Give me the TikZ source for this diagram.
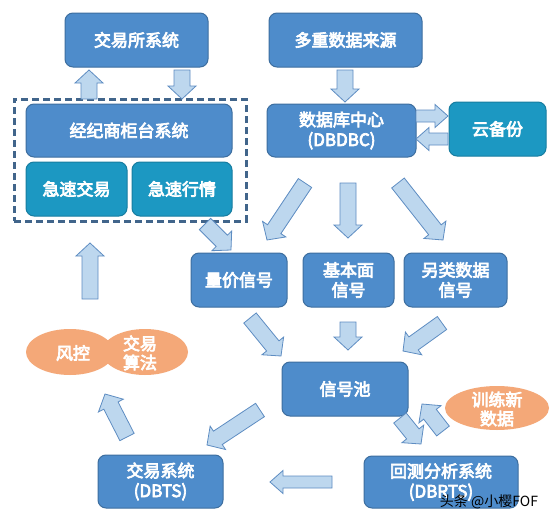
\documentclass[tikz,border=0pt]{standalone}
\usepackage{fontspec}
\setmainfont{Noto Sans CJK SC}
\usetikzlibrary{calc,shapes.geometric}
\definecolor{boxblue}{HTML}{4E8CCB}
\definecolor{boxline}{HTML}{3D6E9F}
\definecolor{tealfill}{HTML}{1C98C2}
\definecolor{tealline}{HTML}{177DA0}
\definecolor{orangefill}{HTML}{F4A878}
\definecolor{arrowfill}{HTML}{BDD7EE}
\definecolor{arrowline}{HTML}{5E8DC2}
\definecolor{frameline}{HTML}{41658B}
\newcommand{\hv}[1]{\special{pdf:literal direct 2 Tr 0.7 w}#1\special{pdf:literal direct 0 Tr}}
\def\sw{8}\def\hw{14}\def\hl{13}
\newcommand{\barrow}[2]{%
  \path let \p1=(#1), \p2=(#2) in \pgfextra{%
    \pgfmathsetmacro\bang{atan2(\y2-\y1,\x2-\x1)}%
    \pgfmathsetmacro\blen{veclen(\x2-\x1,\y2-\y1)}%
    \xdef\bang{\bang}\xdef\blen{\blen}\xdef\bsx{\x1}\xdef\bsy{\y1}};
  \draw[blockarrow, shift={(\bsx,\bsy)}, rotate=\bang]
    (0,\sw) -- ({\blen-\hl},\sw) -- ({\blen-\hl},\hw) -- (\blen,0)
    -- ({\blen-\hl},-\hw) -- ({\blen-\hl},-\sw) -- (0,-\sw) -- cycle;
}
\begin{document}
\begin{tikzpicture}[x=1pt,y=-1pt,
  box/.style={draw=boxline, fill=boxblue, line width=1pt, rounded corners=8pt,
    text=white, font=\fontsize{17}{20}\selectfont, align=center, inner sep=0pt},
  tealbox/.style={box, fill=tealfill, draw=tealline},
  blob/.style={ellipse, fill=orangefill, draw=none, inner sep=0pt},
  blobtext/.style={text=white, font=\fontsize{17}{19}\selectfont, align=center, inner sep=0pt},
  frame/.style={draw=frameline, line width=3pt, dash pattern=on 7pt off 4pt, inner sep=0pt},
  blockarrow/.style={fill=arrowfill, draw=arrowline, line width=0.8pt, line join=miter}]
\useasboundingbox (0,0) rectangle (555,522);
\fill[white] (0,0) rectangle (555,522);

% dashed frame
\node[frame, minimum width=232pt, minimum height=122pt] (frm) at (130,160) {};

% boxes
\node[box, minimum width=143pt, minimum height=54pt] (ex) at (136.5,40) {\hv{交易所系统}};
\node[box, minimum width=153pt, minimum height=54pt] (src) at (345.5,40) {\hv{多重数据来源}};
\node[box, minimum width=206pt, minimum height=53pt] (broker) at (129,130.5) {\hv{经纪商柜台系统}};
\node[tealbox, minimum width=101pt, minimum height=54pt] (ftrade) at (76.5,189) {\hv{急速交易}};
\node[tealbox, minimum width=100pt, minimum height=54pt] (fquote) at (182,189) {\hv{急速行情}};
\node[box, minimum width=149pt, minimum height=53pt] (db) at (341.5,130.5) {\hv{数据库中心}\\\hv{(DBDBC)}};
\node[tealbox, minimum width=97pt, minimum height=54pt] (cloud) at (497.5,129) {\hv{云备份}};
\node[box, minimum width=96pt, minimum height=54pt] (pv) at (239,280) {\hv{量价信号}};
\node[box, minimum width=91pt, minimum height=54pt] (fund) at (348.5,280) {\hv{基本面}\\\hv{信号}};
\node[box, minimum width=103pt, minimum height=54pt] (alt) at (455.5,280) {\hv{另类数据}\\\hv{信号}};
\node[box, minimum width=126pt, minimum height=54pt] (pool) at (345,389) {\hv{信号池}};
\node[box, minimum width=154pt, minimum height=52pt] (bt) at (441,482) {\hv{回测分析系统}\\\hv{(DBRTS)}};
\node[box, minimum width=125pt, minimum height=53pt] (ts) at (160.5,481.5) {\hv{交易系统}\\\hv{(DBTS)}};

% orange blobs
\node[blob, minimum width=88pt, minimum height=46pt] (risk) at (70,352) {};
\node[blob, minimum width=86pt, minimum height=46pt] (algo) at (145,352) {};
\node[blobtext] (risktxt) at (73,353) {\hv{风控}};
\node[blobtext] (algotxt) at (140,353) {\hv{交易}\\\hv{算法}};
\node[blob, minimum width=104pt, minimum height=44pt] (train) at (497,408) {};
\node[blobtext] (traintxt) at (497,409) {\hv{训练新}\\\hv{数据}};

% arrow end points
\coordinate (a1s) at (89,99);   \coordinate (a1e) at (89,70);
\coordinate (a2s) at (182,70);  \coordinate (a2e) at (182,99);
\coordinate (a3s) at (345,70);  \coordinate (a3e) at (345,102);
\coordinate (a4s) at (416,116); \coordinate (a4e) at (448,116);
\coordinate (a5s) at (448,139); \coordinate (a5e) at (416,139);
\coordinate (a6s) at (305,183); \coordinate (a6e) at (267,240);
\coordinate (a7s) at (348,183); \coordinate (a7e) at (348,238);
\coordinate (a8s) at (398,183); \coordinate (a8e) at (443,240);
\coordinate (a9s) at (205,224); \coordinate (a9e) at (231,250);
\coordinate (a10s) at (250,318); \coordinate (a10e) at (281,356);
\coordinate (a11s) at (348,322); \coordinate (a11e) at (348,350);
\coordinate (a12s) at (442,323); \coordinate (a12e) at (403,351);
\coordinate (a13s) at (260,410); \coordinate (a13e) at (207,445);
\coordinate (a14s) at (400,418); \coordinate (a14e) at (421,444);
\coordinate (a15s) at (443,431); \coordinate (a15e) at (422,404);
\coordinate (a16s) at (332,482); \coordinate (a16e) at (270,482);
\coordinate (a17s) at (127,437); \coordinate (a17e) at (105,394);
\coordinate (a18s) at (90,299);  \coordinate (a18e) at (90,243);

\barrow{a1s}{a1e}
\barrow{a2s}{a2e}
\barrow{a3s}{a3e}
\barrow{a6s}{a6e}
\barrow{a7s}{a7e}
\barrow{a8s}{a8e}
\barrow{a9s}{a9e}
\barrow{a10s}{a10e}
\barrow{a11s}{a11e}
\barrow{a12s}{a12e}
\barrow{a13s}{a13e}
\barrow{a14s}{a14e}
\barrow{a15s}{a15e}
\barrow{a17s}{a17e}
\barrow{a18s}{a18e}
\def\sw{6}\def\hw{11.5}\def\hl{13}
\barrow{a4s}{a4e}
\barrow{a5s}{a5e}
\barrow{a16s}{a16e}

% watermark
\node[text=black, font=\fontsize{14}{16}\selectfont, inner sep=0pt] (wm) at (489,502) {头条 @小樱FOF};
\end{tikzpicture}
\end{document}
